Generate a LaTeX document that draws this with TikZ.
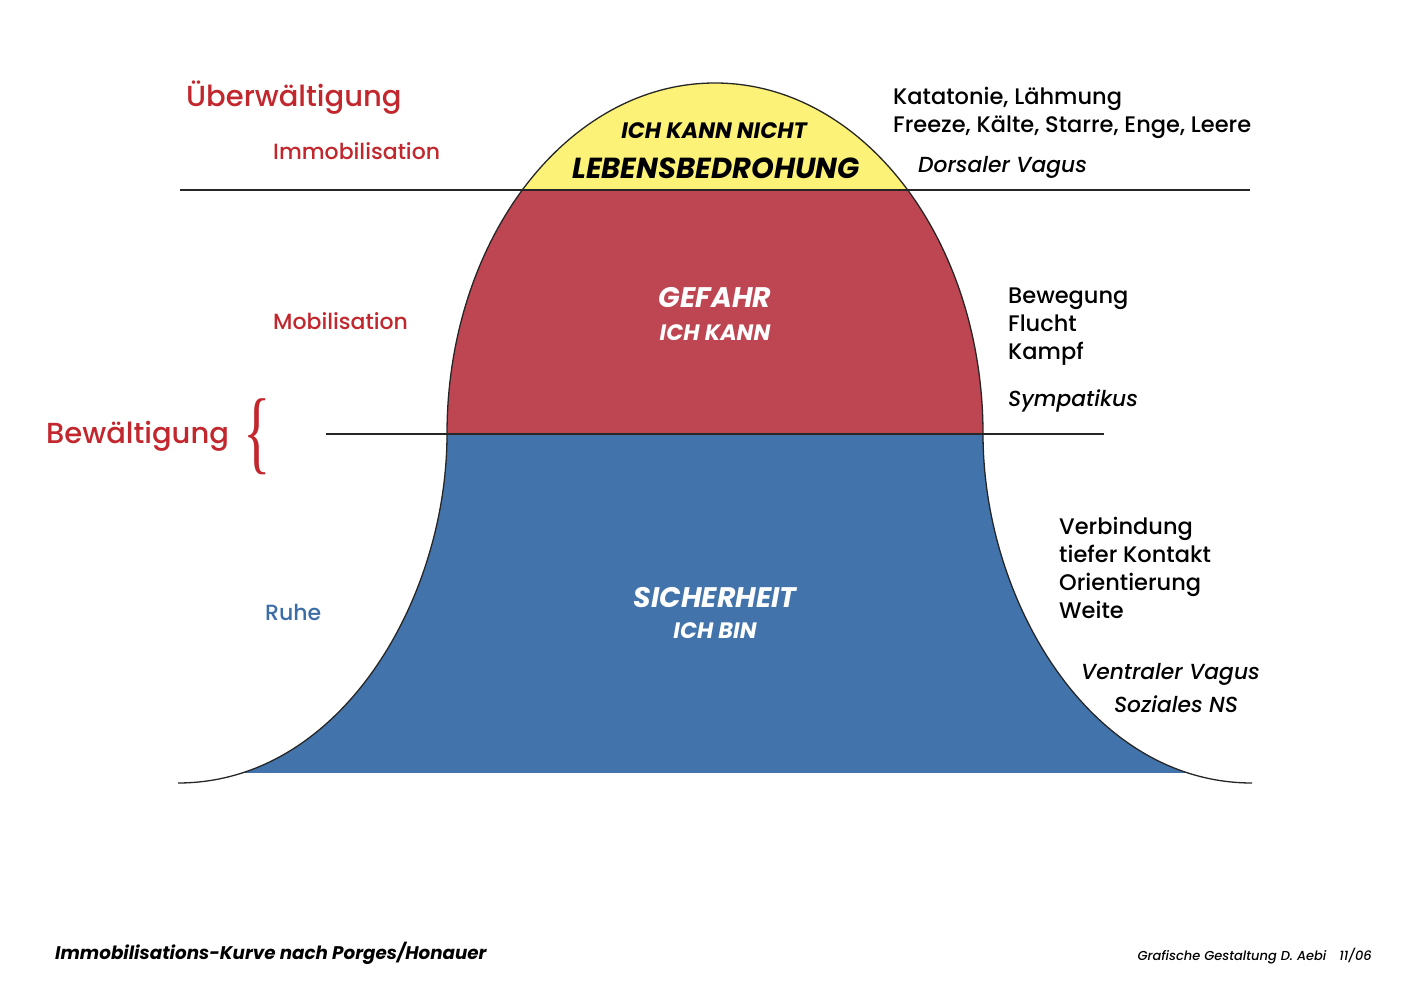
\documentclass[tikz,border=0pt]{standalone}
\usepackage{fontspec}
\setmainfont{Poppins}[UprightFont=* Medium, ItalicFont=* Medium Italic, BoldFont=* Bold, BoldItalicFont=* Bold Italic]
\newfontfamily\bracefont{Liberation Serif}
\usepackage{tikz}
\usetikzlibrary{positioning}
\definecolor{safeblue}{HTML}{4274AB}
\definecolor{dangerred}{HTML}{BE4552}
\definecolor{threatyellow}{HTML}{FBF277}
\definecolor{labelred}{HTML}{C1272D}
\definecolor{labelblue}{HTML}{3B6DA6}
\tikzstyle{stage} = [anchor=west, inner sep=0pt, text=labelred, font=\fontsize{22}{26}\selectfont]
\tikzstyle{bigstage} = [anchor=west, inner sep=0pt, text=labelred, font=\fontsize{29}{34}\selectfont]
\tikzstyle{symptom} = [anchor=west, inner sep=0pt, align=left, font=\fontsize{22.5}{28}\selectfont]
\tikzstyle{nerve} = [anchor=west, inner sep=0pt, font=\fontsize{21.8}{30}\selectfont\itshape]
\tikzstyle{zone} = [inner sep=0pt, font=\fontsize{28.3}{30}\selectfont\bfseries\itshape]
\tikzstyle{zonesub} = [inner sep=0pt, font=\fontsize{22.3}{26}\selectfont\bfseries\itshape]
\tikzstyle{curve} = [line width=1.3pt, black!85]
\tikzstyle{border} = [line width=1.2pt, black!85]

\begin{document}
\begin{tikzpicture} [x=1pt, y=-1pt]
    \useasboundingbox (0,0) rectangle (1403,992);

    % coloured zones under the curve
    \begin{scope}
        \clip (178,783) .. controls (340,783) and (447,600) .. (447,434)
            .. controls (447,240) and (567,83) .. (715,83)
            .. controls (863,83) and (983,240) .. (983,434)
            .. controls (983,600) and (1090,783) .. (1252,783) -- cycle;
        \fill[safeblue] (150,434) rectangle (1300,773);
        \fill[dangerred] (150,190) rectangle (1300,434);
        \fill[threatyellow] (150,60) rectangle (1300,190);
    \end{scope}
    \draw[curve] (178,783) .. controls (340,783) and (447,600) .. (447,434)
        .. controls (447,240) and (567,83) .. (715,83)
        .. controls (863,83) and (983,240) .. (983,434)
        .. controls (983,600) and (1090,783) .. (1252,783);
    \draw[border] (180,190) -- (1250,190);
    \draw[border] (326,434) -- (1104,434);

    % left side
    \node (overwhelm) [bigstage] at (186,98) {Überwältigung};
    \node (immob) [stage] at (273,151) {Immobilisation};
    \node (mob) [stage] at (273,321) {Mobilisation};
    \node (cope) [bigstage] at (46,436) {Bewältigung};
    \node (brace) [inner sep=0pt, text=labelred, xscale=0.62, font=\fontsize{92}{92}\bracefont] at (257,437) {\{};
    \node (rest) [stage, text=labelblue] at (265,612) {Ruhe};

    % zones
    \node (cannot) [zonesub] at (714,131) {ICH KANN NICHT};
    \node (threat) [zone, font=\fontsize{29}{34}\selectfont\bfseries\itshape] at (716,168) {LEBENSBEDROHUNG};
    \node (danger) [zone, text=white] at (715,298) {GEFAHR};
    \node (can) [zonesub, text=white] at (715,333) {ICH KANN};
    \node (safety) [zone, text=white] at (715,598) {SICHERHEIT};
    \node (iam) [zonesub, text=white] at (715,631) {ICH BIN};

    % right side
    \node (freeze) [symptom] at (893,113) {Katatonie, Lähmung\\Freeze, Kälte, Starre, Enge, Leere};
    \node (dorsal) [nerve] at (918,167) {Dorsaler Vagus};
    \node (flight) [symptom] at (1008,327) {Bewegung\\Flucht\\Kampf};
    \node (sympa) [nerve] at (1008,401) {Sympatikus};
    \node (contact) [symptom] at (1059,568) {Verbindung\\tiefer Kontakt\\Orientierung\\Weite};
    \node (ventral) [nerve] at (1081,674) {Ventraler Vagus};
    \node (social) [nerve, anchor=center] at (1176,704) {Soziales NS};

    % footer
    \node (title) [anchor=west, inner sep=0pt, font=\fontsize{18.3}{22}\selectfont\bfseries\itshape] at (55,953) {Immobilisations-Kurve nach Porges/Honauer};
    \node (credit) [anchor=east, inner sep=0pt, font=\fontsize{13}{14}\selectfont\itshape] at (1372,956) {Grafische Gestaltung D. Aebi\quad 11/06};
\end{tikzpicture}
\end{document}
